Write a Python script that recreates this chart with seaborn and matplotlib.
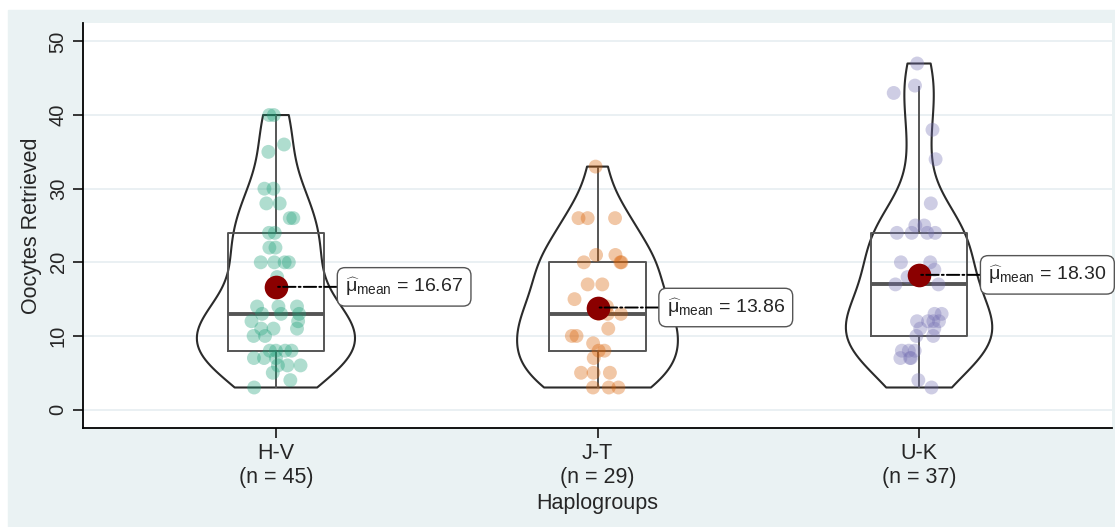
import numpy as np
import pandas as pd
import matplotlib
matplotlib.use("Agg")
import matplotlib.pyplot as plt
from matplotlib.patches import Rectangle
import seaborn as sns

# data (oocytes retrieved per woman, by haplogroup)
groups = ["H-V", "J-T", "U-K"]
hv_oocytes = [3, 4, 5, 6, 6, 6, 7, 7, 7, 8, 8, 8, 8, 10, 10, 11, 11, 11, 12, 12, 13, 13, 13,
              14, 14, 14, 18, 20, 20, 20, 20, 22, 22, 24, 24, 26, 26, 28, 28, 30, 30, 35, 36, 40, 40]
jt_oocytes = [3, 3, 3, 5, 5, 5, 7, 8, 8, 9, 10, 10, 11, 13, 13, 13, 14, 15, 17, 17, 20, 20, 20,
              21, 21, 26, 26, 26, 33]
uk_oocytes = [3, 4, 7, 7, 7, 8, 8, 8, 10, 10, 11, 11, 12, 12, 12, 12, 13, 13, 17, 17, 18, 18, 19,
              20, 20, 24, 24, 24, 24, 25, 25, 28, 34, 38, 43, 44, 47]
palette = ["#1B9E77", "#D95F02", "#7570B3"]

df = pd.DataFrame({
    "group": ["H-V"] * len(hv_oocytes) + ["J-T"] * len(jt_oocytes) + ["U-K"] * len(uk_oocytes),
    "oocytes": hv_oocytes + jt_oocytes + uk_oocytes,
})


# R's bw.nrd0 expressed as a gaussian_kde factor
def nrd0_factor(kde):
    x = kde.dataset.ravel()
    sd = x.std(ddof=1)
    q75, q25 = np.percentile(x, [75, 25])
    bw = 0.9 * min(sd, (q75 - q25) / 1.34) * len(x) ** -0.2
    return bw / sd


sns.set_style("white")
plt.rcParams["font.family"] = ["Liberation Sans", "DejaVu Sans"]
plt.rcParams["mathtext.fontset"] = "custom"
plt.rcParams["mathtext.rm"] = "Liberation Sans"
plt.rcParams["mathtext.it"] = "Liberation Sans"

fig = plt.figure(figsize=(11.15, 5.27), dpi=100, facecolor="white")
fig.patches.append(Rectangle((8 / 1115, 0), 1, 1 - 10 / 527, transform=fig.transFigure,
                             color="#EAF2F3", zorder=-10))
ax = fig.add_axes([83 / 1115, 1 - 428 / 527, (1112 - 83) / 1115, (428 - 23) / 527])
ax.set_facecolor("white")

sns.violinplot(data=df, x="group", y="oocytes", order=groups, cut=0, inner=None, fill=False,
               color="#2b2b2b", linewidth=1.5, width=0.5, density_norm="area",
               bw_method=nrd0_factor, ax=ax)
sns.boxplot(data=df, x="group", y="oocytes", order=groups, fill=False, color="#555555",
            width=0.3, showcaps=False, showfliers=False, linewidth=1.4,
            medianprops=dict(linewidth=2.8), ax=ax)
np.random.seed(7)
sns.stripplot(data=df, x="group", y="oocytes", order=groups, hue="group", hue_order=groups,
              palette=palette, alpha=0.35, size=10, jitter=0.08, linewidth=0, legend=False,
              zorder=3, ax=ax)

means = df.groupby("group")["oocytes"].mean().reindex(groups)
counts = df.groupby("group")["oocytes"].size().reindex(groups)
for i, g in enumerate(groups):
    m = means[g]
    ax.scatter(i, m, s=290, color="#8B0000", linewidths=0, zorder=5)
    ax.annotate(rf"$\widehat{{\mu}}_{{\mathrm{{mean}}}}$ = {m:.2f}", xy=(i, m),
                xytext=(i + 0.215, m), ha="left", va="center", fontsize=14,
                bbox=dict(boxstyle="round,pad=0.4", fc="white", ec="#555555", lw=1.0),
                arrowprops=dict(arrowstyle="-", linestyle="-.", color="black", lw=1.4,
                                shrinkA=0, shrinkB=0),
                zorder=6)

ax.set_xlim(-0.6, 2.6)
ax.set_ylim(-2.5, 52.5)
ax.set_yticks(range(0, 51, 10))
ax.set_xticks(range(len(groups)))
ax.set_xticklabels([f"{g}\n(n = {counts[g]})" for g in groups], fontsize=15.5)
ax.tick_params(axis="y", labelrotation=90, labelsize=14.5, length=7, width=1.3, pad=4, left=True)
ax.tick_params(axis="x", length=7, width=1.3, pad=4, bottom=True)
for t in ax.get_yticklabels():
    t.set_va("center")
ax.yaxis.grid(True, color="#E6EEF1", lw=1.2)
ax.xaxis.grid(False)
ax.set_axisbelow(True)
for side in ["top", "right"]:
    ax.spines[side].set_visible(False)
for side in ["left", "bottom"]:
    ax.spines[side].set_color("black")
    ax.spines[side].set_linewidth(1.3)

ax.set_xlabel("Haplogroups", fontsize=15.5, labelpad=3)
ax.set_ylabel("Oocytes Retrieved", fontsize=15.5, labelpad=5)

fig.savefig("out.png", dpi=100)
